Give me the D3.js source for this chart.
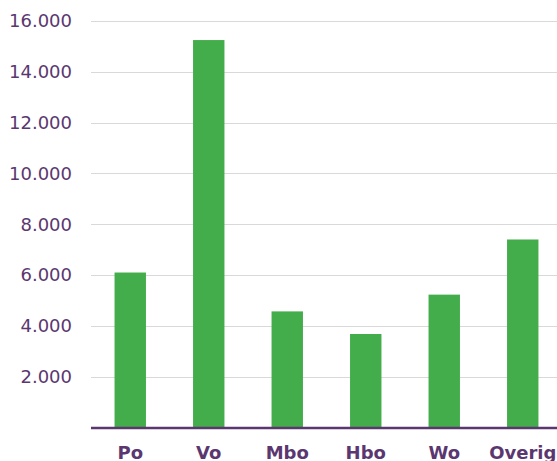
<!DOCTYPE html>
<html><head><meta charset="utf-8">
<script src="https://cdn.jsdelivr.net/npm/d3@7"></script>
<style>body{margin:0;background:#fff}svg{display:block}</style>
</head><body>
<svg id="c" width="557" height="461"></svg>
<script>
const categories = ["Po","Vo","Mbo","Hbo","Wo","Overig"];
const values = [6100, 15250, 4570, 3680, 5230, 7400];
const yTicks = [2000,4000,6000,8000,10000,12000,14000,16000];

(function(){
const svg = d3.select("#c");
const mLeft = 91, mRight = 562, mTop = 21, mBottom = 427.5;
const x = d3.scaleBand().domain(categories).range([mLeft, mRight]).padding(0);
const y = d3.scaleLinear().domain([0,16000]).range([mBottom, mTop]);
const purple = "#5b3770";
const fmt = d => d3.format(",")(d).replace(/,/g, ".");

// gridlines
svg.append("g").selectAll("line").data(yTicks).join("line")
  .attr("x1", mLeft).attr("x2", 557)
  .attr("y1", d => Math.round(y(d)) + 0.5).attr("y2", d => Math.round(y(d)) + 0.5)
  .attr("stroke", "#d9d9d9").attr("stroke-width", 1);

// y labels
svg.append("g").selectAll("text").data(yTicks).join("text")
  .attr("x", 72).attr("y", d => y(d)).attr("dy", "0.35em")
  .attr("text-anchor", "end")
  .attr("font-family", "DejaVu Sans, Verdana, sans-serif")
  .attr("font-size", 18).attr("fill", purple)
  .text(fmt);

// bars
const bw = x.bandwidth() * 0.4;
svg.append("g").selectAll("rect").data(categories).join("rect")
  .attr("x", (d) => x(d) + x.bandwidth()/2 - bw/2)
  .attr("width", bw)
  .attr("y", (d,i) => y(values[i]))
  .attr("height", (d,i) => mBottom - y(values[i]))
  .attr("fill", "#42ad4a");

// baseline
svg.append("line").attr("x1", mLeft).attr("x2", 557)
  .attr("y1", 428).attr("y2", 428)
  .attr("stroke", purple).attr("stroke-width", 2.5);

// category labels
svg.append("g").selectAll("text").data(categories).join("text")
  .attr("x", d => x(d) + x.bandwidth()/2).attr("y", 459)
  .attr("text-anchor", "middle")
  .attr("font-family", "DejaVu Sans, Verdana, sans-serif")
  .attr("font-weight", "bold")
  .attr("font-size", 18).attr("fill", purple)
  .text(d => d);
})();
</script>
</body></html>
